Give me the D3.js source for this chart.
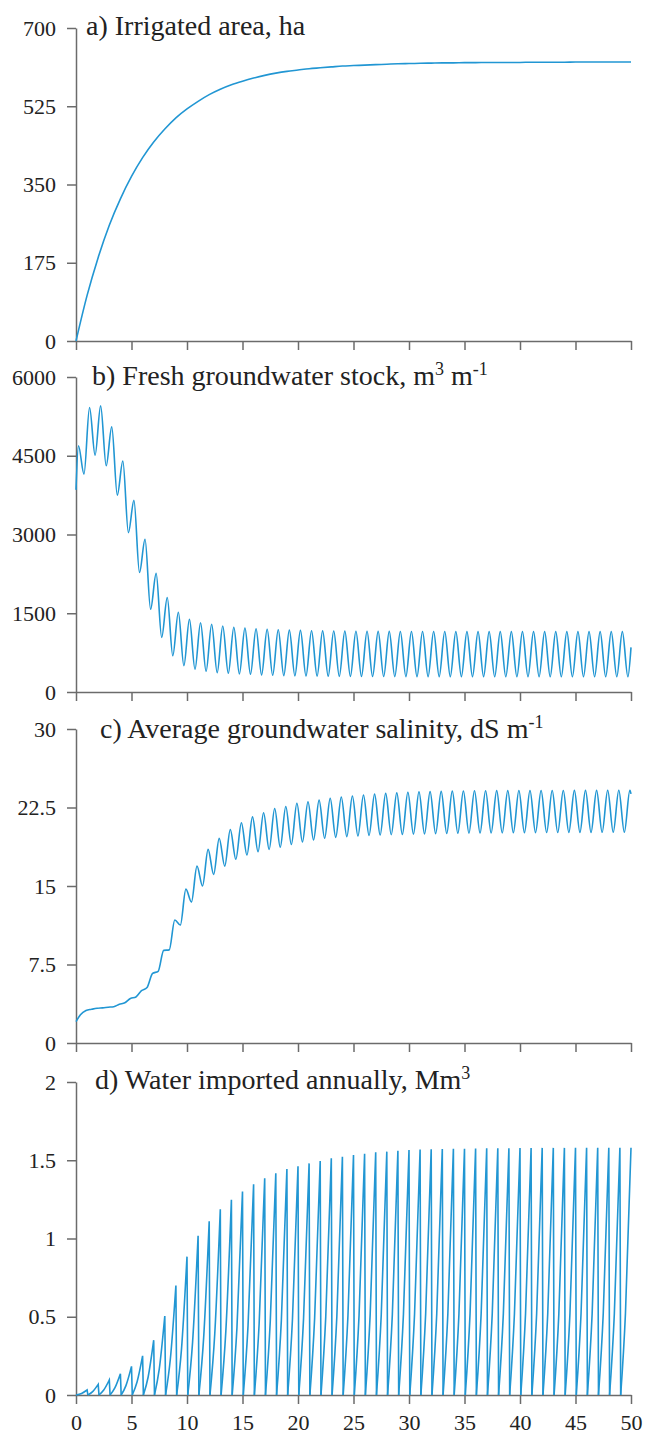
<!DOCTYPE html>
<html>
<head>
<meta charset="UTF-8">
<script src="https://d3js.org/d3.v7.min.js"></script>
<style>
  body { margin: 0; background: #fff; }
  svg { display: block; }
  svg text { font-family: "Times New Roman", "Liberation Serif", Tinos, serif !important; }
  .axis path, .axis line { stroke: #6b6b6b; stroke-width: 1.5; }
  .series { fill: none; stroke: #2196d3; stroke-width: 1.6; }
</style>
</head>
<body style="margin:0">
<svg width="645" height="1439"></svg>
<script>
// ---- data ----
const xTicks = [0, 5, 10, 15, 20, 25, 30, 35, 40, 45, 50];

// a) irrigated area (ha), one value per year 0..50
const areaYears = d3.range(0, 51);
const areaValues = [0, 102, 187, 259, 318, 368, 410, 445, 474, 499, 519, 536, 551, 563, 573, 581, 588,
  594, 599, 603, 606, 609, 611, 613, 615, 616, 617, 618, 619, 620, 620.5, 621, 621.5, 622, 622, 622.5,
  622.5, 623, 623, 623, 623, 623.5, 623.5, 623.5, 623.5, 624, 624, 624, 624, 624, 624];
const areaTicks = [0, 175, 350, 525, 700];

// b) fresh groundwater stock: start, seasonal peaks (~k+0.22), troughs (~k+0.72), end
const stockStart = 3850;
const stockPeaks = [4690, 5420, 5450, 5050, 4400, 3650, 2910, 2260, 1800, 1520, 1385, 1320, 1290, 1257,
  1232, 1219, 1206, 1195, 1186, 1179, 1173, 1168, 1164, 1161, 1159, 1157, 1156, 1155, 1154, 1153, 1152,
  1152, 1151, 1151, 1150, 1150, 1150, 1150, 1150, 1150, 1150, 1150, 1150, 1150, 1150, 1150, 1150, 1150,
  1150, 1150];
const stockTroughs = [4150, 4510, 4310, 3750, 3035, 2275, 1575, 1040, 690, 500, 432, 394, 368, 356, 343,
  337, 325, 318, 312, 308, 305, 302, 300, 298, 297, 296, 295, 294, 293, 293, 292, 292, 292, 291, 291, 291,
  291, 290, 290, 290, 290, 290, 290, 290, 290, 290, 290, 290, 290, 290];
const stockEnd = 850;
const stockTicks = [0, 1500, 3000, 4500, 6000];

// c) average groundwater salinity: start, troughs (~k+0.4), peaks (~k+0.9), end
const salStart = 2.04;
const salTroughs = [2.7, 3.22, 3.36, 3.47, 3.85, 4.4, 5.3, 6.85, 8.9, 11.27, 13.47, 15.0, 16.1, 16.9,
  17.55, 17.96, 18.28, 18.5, 18.7, 18.96, 19.2, 19.4, 19.56, 19.65, 19.72, 19.78, 19.83, 19.87, 19.9,
  19.93, 19.96, 19.98, 20.0, 20.02, 20.04, 20.05, 20.06, 20.07, 20.08, 20.09, 20.1, 20.1, 20.11, 20.11,
  20.12, 20.12, 20.12, 20.13, 20.13, 20.13];
const salPeaks = [3.1, 3.32, 3.42, 3.7, 4.25, 5.0, 6.65, 8.85, 11.75, 14.7, 16.9, 18.5, 19.55, 20.4,
  21.05, 21.6, 22.0, 22.4, 22.6, 22.9, 23.05, 23.2, 23.38, 23.5, 23.6, 23.7, 23.78, 23.85, 23.9, 23.95,
  24.0, 24.02, 24.04, 24.06, 24.08, 24.1, 24.1, 24.11, 24.11, 24.12, 24.12, 24.13, 24.13, 24.13, 24.14,
  24.14, 24.14, 24.15, 24.15, 24.15];
const salEnd = 23.8;
const salTicks = [0, 7.5, 15, 22.5, 30];

// d) water imported annually (Mm3): yearly build-up, value mid-year and peak at year end
const importMid = [0.010, 0.022, 0.032, 0.045, 0.06, 0.083, 0.115, 0.165, 0.23, 0.29, 0.335, 0.365,
  0.39, 0.41, 0.43, 0.445, 0.457, 0.468, 0.477, 0.482, 0.488, 0.493, 0.499, 0.503, 0.506, 0.509, 0.512,
  0.513, 0.515, 0.517, 0.517, 0.518, 0.519, 0.519, 0.519, 0.52, 0.52, 0.52, 0.52, 0.521, 0.521, 0.521,
  0.521, 0.521, 0.521, 0.521, 0.521, 0.521, 0.521, 0.521];
const importPeaks = [0.032, 0.068, 0.096, 0.136, 0.183, 0.25, 0.35, 0.505, 0.70, 0.884, 1.018, 1.11,
  1.187, 1.248, 1.30, 1.346, 1.385, 1.417, 1.444, 1.461, 1.48, 1.495, 1.512, 1.523, 1.534, 1.542, 1.551,
  1.555, 1.561, 1.566, 1.568, 1.570, 1.572, 1.573, 1.574, 1.575, 1.576, 1.577, 1.577, 1.578, 1.578,
  1.579, 1.579, 1.579, 1.58, 1.58, 1.58, 1.58, 1.58, 1.58];
const importTicks = [0, 0.5, 1, 1.5, 2];

// ---- layout ----
const serif = '"Times New Roman"';
const svg = d3.select("svg");
const x = d3.scaleLinear().domain([0, 50]).range([76, 631]);

const panels = [
  { top: 28, bottom: 341, max: 700, ticks: areaTicks, title: ["a) Irrigated area, ha"], tx: 86, ty: 35 },
  { top: 377, bottom: 692, max: 6000, ticks: stockTicks, title: ["b) Fresh groundwater stock, m", "3", " m", "-1"], tx: 92, ty: 385 },
  { top: 729, bottom: 1043, max: 30, ticks: salTicks, title: ["c) Average groundwater salinity, dS m", "-1"], tx: 100, ty: 738 },
  { top: 1082, bottom: 1395, max: 2, ticks: importTicks, title: ["d) Water imported annually, Mm", "3"], tx: 95, ty: 1089 }
];

panels.forEach((p, i) => {
  p.y = d3.scaleLinear().domain([0, p.max]).range([p.bottom, p.top]);

  const gx = svg.append("g")
    .attr("class", "axis")
    .attr("transform", `translate(0,${p.bottom})`)
    .call(d3.axisBottom(x).tickValues(xTicks).tickSize(9).tickSizeOuter(0).tickPadding(10)
      .tickFormat(i === 3 ? d3.format("") : () => ""));

  const gy = svg.append("g")
    .attr("class", "axis")
    .attr("transform", `translate(76,0)`)
    .call(d3.axisLeft(p.y).tickValues(p.ticks).tickSize(9).tickSizeOuter(0).tickPadding(11)
      .tickFormat(d3.format("")));

  [gx, gy].forEach(g => g.attr("font-family", null).attr("font-size", 22)
    .selectAll("text").attr("fill", "#222").style("font-family", serif));

  const t = svg.append("text")
    .attr("x", p.tx).attr("y", p.ty)
    .attr("font-size", 28).attr("fill", "#222")
    .style("font-family", serif);
  p.title.forEach((s, j) => {
    const sup = j % 2 === 1;
    t.append("tspan")
      .attr("font-size", sup ? 18 : null)
      .attr("dy", sup ? -10 : (j > 0 ? 10 : 0))
      .text(s);
  });
});

const line = y => d3.line().x(d => x(d[0])).y(d => y(d[1])).curve(d3.curveMonotoneX);

// a
svg.append("path").attr("class", "series")
  .attr("d", line(panels[0].y)(areaYears.map((t, i) => [t, areaValues[i]])));

// b
const stockPts = [[0, stockStart]];
stockPeaks.forEach((v, k) => { stockPts.push([k + 0.22, v], [k + 0.72, stockTroughs[k]]); });
stockPts.push([50, stockEnd]);
svg.append("path").attr("class", "series").attr("d", line(panels[1].y)(stockPts));

// c
const salPts = [[0, salStart]];
salTroughs.forEach((v, k) => { salPts.push([k + 0.4, v], [k + 0.9, salPeaks[k]]); });
salPts.push([50, salEnd]);
svg.append("path").attr("class", "series").attr("d", line(panels[2].y)(salPts));

// d: each year builds up to the peak, then drops back to zero
const yd = panels[3].y;
const teeth = importPeaks.map((pk, k) => ({ k, mid: importMid[k], pk }));
svg.append("g").selectAll("path")
  .data(teeth)
  .join("path")
  .attr("class", "series")
  .attr("d", d => {
    const start = d.k === 0 ? 0 : d.k + 0.07;
    const rise = line(yd)([[start, 0], [d.k + 0.5, d.mid], [d.k + 1, d.pk]]);
    return d.k + 1 < 50 ? rise + `L${x(d.k + 1.07)},${yd(0)}` : rise;
  });
</script>
</body>
</html>
